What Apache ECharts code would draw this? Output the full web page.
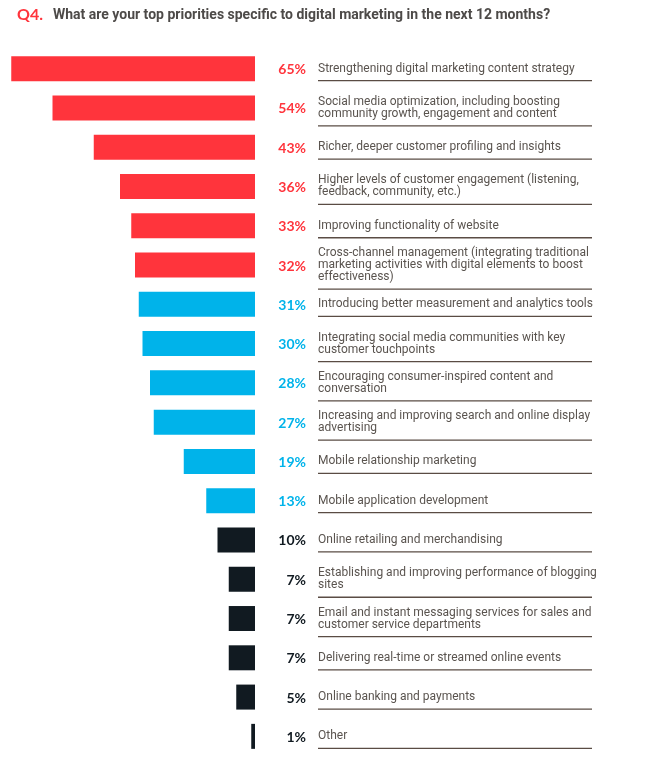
<!DOCTYPE html>
<html>
<head>
<meta charset="utf-8">
<script src="https://cdn.jsdelivr.net/npm/echarts@6/dist/echarts.min.js"></script>
<style>
  html, body { margin: 0; padding: 0; background: #fff; }
  #chart { width: 664px; height: 782px; }
</style>
</head>
<body>
<div id="chart"></div>
<script>
// priorities, top to bottom
const categories = [
  'Strengthening digital marketing content strategy',
  'Social media optimization, including boosting\ncommunity growth, engagement and content',
  'Richer, deeper customer profiling and insights',
  'Higher levels of customer engagement (listening,\nfeedback, community, etc.)',
  'Improving functionality of website',
  'Cross-channel management (integrating traditional\nmarketing activities with digital elements to boost\neffectiveness)',
  'Introducing better measurement and analytics tools',
  'Integrating social media communities with key\ncustomer touchpoints',
  'Encouraging consumer-inspired content and\nconversation',
  'Increasing and improving search and online display\nadvertising',
  'Mobile relationship marketing',
  'Mobile application development',
  'Online retailing and merchandising',
  'Establishing and improving performance of blogging\nsites',
  'Email and instant messaging services for sales and\ncustomer service departments',
  'Delivering real-time or streamed online events',
  'Online banking and payments',
  'Other'
]
const values = [65, 54, 43, 36, 33, 32, 31, 30, 28, 27, 19, 13, 10, 7, 7, 7, 5, 1]
const tiers = ['top', 'top', 'top', 'top', 'top', 'top',
  'mid', 'mid', 'mid', 'mid', 'mid', 'mid',
  'low', 'low', 'low', 'low', 'low', 'low']

const tierColor = { top: '#ff343c', mid: '#00b3ea', low: '#111a21' }
const textColor = '#5a544f'
const ruleColor = '#5a4c44'

const chart = echarts.init(document.getElementById('chart'))

chart.setOption({
  animation: false,
  title: {
    left: 12,
    top: 2,
    text: '{q|Q4.}{t|What are your top priorities specific to digital marketing in the next 12 months?}',
    textStyle: {
      rich: {
        q: { color: '#ff343c', fontFamily: 'Lato', fontWeight: 'bold', fontSize: 16, width: 36 },
        t: { color: '#4d4a48', fontFamily: 'Roboto', fontWeight: 'bold', fontSize: 14 }
      }
    }
  },
  grid: { left: 0, right: 409, top: 49, bottom: 26 },
  xAxis: { type: 'value', inverse: true, min: 0, max: 68, show: false },
  yAxis: { type: 'category', inverse: true, data: categories, show: false },
  series: [
    {
      type: 'bar',
      barWidth: 25,
      data: values.map((v, i) => ({ value: v, itemStyle: { color: tierColor[tiers[i]] } }))
    },
    {
      type: 'custom',
      clip: false,
      data: values.map((v, i) => [v, i]),
      encode: { x: 0, y: 1 },
      renderItem(params, api) {
        const i = api.value(1)
        const p = api.coord([0, i])
        const txt = categories[i]
        const lines = txt.split('\n').length
        const ly = p[1] + 6 + 6 * lines
        return {
          type: 'group',
          children: [
            {
              type: 'text',
              style: {
                text: values[i] + '%', x: p[0] + 51, y: p[1] + 1,
                align: 'right', verticalAlign: 'middle',
                fill: tierColor[tiers[i]], font: 'bold 14px Lato'
              }
            },
            {
              type: 'text',
              style: {
                text: txt, x: p[0] + 63, y: p[1],
                verticalAlign: 'middle', lineHeight: 12,
                fill: textColor, font: '12px Roboto'
              }
            },
            {
              type: 'line',
              shape: { x1: p[0] + 63, y1: ly, x2: p[0] + 337, y2: ly },
              style: { stroke: ruleColor, lineWidth: 1.3 }
            }
          ]
        }
      }
    }
  ]
})

window.addEventListener('resize', () => {
  chart.resize()
})
</script>
</body>
</html>
